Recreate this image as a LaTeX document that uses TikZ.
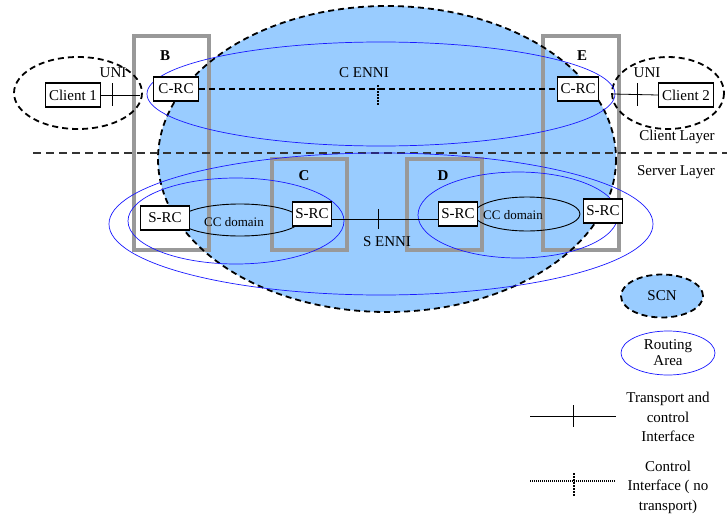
\documentclass[tikz,border=0pt]{standalone}
\usepackage{fontspec}
\setmainfont{Liberation Serif}
\usepackage{tikz}
\usetikzlibrary{shapes.geometric}
\definecolor{scnblue}{HTML}{99CCFF}
\definecolor{areablue}{HTML}{1A1AFF}
\definecolor{boxgray}{HTML}{999999}

\begin{document}
\begin{tikzpicture}[
	x=1pt, y=-1pt,
	every node/.style={font=\fontsize{15}{19.5}\selectfont},
	scnline/.style={draw=black, line width=1.8pt, dash pattern=on 6pt off 4pt},
	area/.style={draw=areablue, line width=0.7pt},
	ccline/.style={draw=black, line width=0.9pt},
	nebox/.style={draw=boxgray, line width=3.2pt},
	rc/.style={draw, fill=white, line width=1.2pt, minimum height=24pt, inner xsep=3pt, inner ysep=0pt},
	iface/.style={line width=0.8pt},
	ctrl/.style={line width=1.6pt, dash pattern=on 1.2pt off 0.8pt},
	ctrltick/.style={line width=1.6pt, dash pattern=on 1.5pt off 1.5pt},
	small/.style={font=\fontsize{13}{15}\selectfont},
	lbl/.style={font=\fontsize{15}{19.5}\selectfont\bfseries}
	]
	\useasboundingbox (0,0) rectangle (727,519);

	% SCN area and network elements
	\fill[scnblue] (387,159) ellipse [x radius=229, y radius=153];
	\draw[nebox] (134,36) rectangle (209,250);
	\draw[nebox] (543,36) rectangle (619,250);
	\draw[nebox] (272,159) rectangle (347,250);
	\draw[nebox] (407,159) rectangle (482,250);
	\draw[scnline] (387,159) ellipse [x radius=229, y radius=153];

	% Layer divider
	\draw[draw=black!80, line width=1.2pt, dash pattern=on 8pt off 5pt] (33,153) -- (727,153);

	% Client domains
	\draw[scnline] (78,93) ellipse [x radius=64, y radius=36];
	\draw[scnline] (668,93) ellipse [x radius=56, y radius=36];

	% Routing areas
	\draw[area] (381,94) ellipse [x radius=234, y radius=52];
	\draw[area] (381,224) ellipse [x radius=272, y radius=71];
	\draw[area] (236,221) ellipse [x radius=108, y radius=43];
	\draw[area] (518,215) ellipse [x radius=100, y radius=43];

	% CC domains
	\draw[ccline] (240,220) ellipse [x radius=60, y radius=16];
	\draw[ccline] (527,214) ellipse [x radius=53, y radius=17];
	\node[small] (ccL) at (234,222) {CC domain};
	\node[small] (ccR) at (513,215) {CC domain};

	% Controllers and clients
	\node[rc, minimum width=45pt] (crcL) at (176,89) {C-RC};
	\node[rc] (crcR) at (578,89) {C-RC};
	\node[rc, minimum width=55pt] (cl1) at (73,95) {Client 1};
	\node[rc, minimum width=55pt] (cl2) at (686,95) {Client 2};
	\node[rc, minimum width=49pt] (srcB) at (165,218) {S-RC};
	\node[rc] (srcC) at (312,214) {S-RC};
	\node[rc] (srcD) at (458,214) {S-RC};
	\node[rc] (srcE) at (603,211) {S-RC};

	% Interfaces
	\coordinate (uniL) at (140,95);
	\coordinate (uniR) at (613,94);
	\draw[iface] (cl1.east) -- (uniL);
	\draw[iface] (112,83) -- (112,106);
	\draw[iface] (uniR) -- (cl2.west);
	\draw[iface] (637,83) -- (637,106);
	\draw[scnline] (crcL.east) -- (crcR.west);
	\draw[ctrltick] (378,85) -- (378,105);
	\draw[iface] ([yshift=-5pt]srcC.east) -- ([yshift=-5pt]srcD.west);
	\draw[iface] (378,209) -- (378,229);

	% Labels
	\node[lbl] (nB) at (165,56) {B};
	\node[lbl] (nC) at (304,176) {C};
	\node[lbl] (nD) at (443,176) {D};
	\node[lbl] (nE) at (582,56) {E};
	\node (uniLlbl) at (113,73) {UNI};
	\node (uniRlbl) at (647,73) {UNI};
	\node (cenni) at (364,73) {C ENNI};
	\node (senni) at (387,242) {S ENNI};
	\node (clayer) at (677,137) {Client Layer};
	\node (slayer) at (676,172) {Server Layer};

	% Legend
	\node[ellipse, scnline, fill=scnblue, minimum width=82pt, minimum height=43pt] (scnkey) at (662,296) {SCN};
	\node[ellipse, area, minimum width=94pt, minimum height=44pt, inner sep=0pt, align=center, font=\fontsize{15}{16}\selectfont] (areakey) at (668,353) {Routing\\Area};
	\coordinate (tcA) at (530,416);
	\coordinate (tcB) at (616,416);
	\draw[iface] (tcA) -- (tcB);
	\draw[iface] (573,405) -- (573,427);
	\node[align=center] (tckey) at (668,417) {Transport and\\control\\Interface};
	\coordinate (ccA) at (530,481);
	\coordinate (ccB) at (615,481);
	\draw[ctrl] (ccA) -- (ccB);
	\draw[ctrltick] (574,473) -- (574,497);
	\node[align=center] (ckey) at (668,487) {Control\\Interface ( no\\transport)};
\end{tikzpicture}
\end{document}
